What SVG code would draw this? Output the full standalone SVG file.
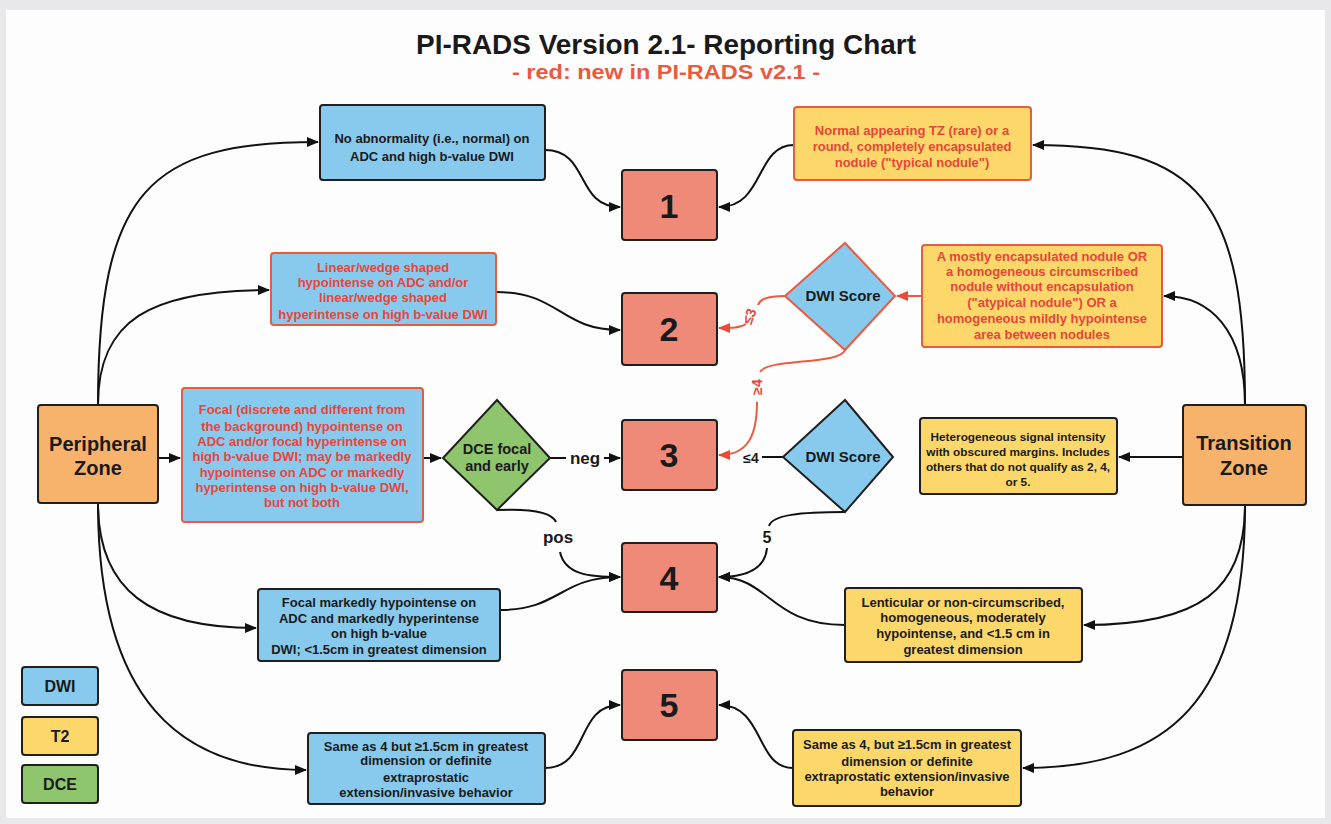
<svg xmlns="http://www.w3.org/2000/svg" width="1331" height="824" viewBox="0 0 1331 824">
<defs>
<style>
.t{font-family:"Liberation Sans",Arial,sans-serif;font-weight:bold;text-anchor:middle}
.s{font-size:13px}
.s2{font-size:11.8px}
.blk{fill:#1a1a1a}
.red{fill:#e8453a}
.bx{stroke:#1f1f1f;stroke-width:2}
.rbx{stroke:#ea5a3f;stroke-width:2}
.blue{fill:#88caed}
.yel{fill:#fcd86b}
.sal{fill:#f08a78}
.org{fill:#f7b36b}
.grn{fill:#8fc56c}
.c{fill:none;stroke:#111;stroke-width:2}
.rc{fill:none;stroke:#ec5a3f;stroke-width:2}
.num{font-size:34px}
.lab{font-size:17px}
</style>
<marker id="ah" markerUnits="userSpaceOnUse" markerWidth="12" markerHeight="12" viewBox="0 0 12 12" refX="11" refY="6" orient="auto"><path d="M0,1 L12,6 L0,11 z" fill="#111"/></marker>
<marker id="rah" markerUnits="userSpaceOnUse" markerWidth="12" markerHeight="12" viewBox="0 0 12 12" refX="11" refY="6" orient="auto"><path d="M0,1 L12,6 L0,11 z" fill="#ec4a35"/></marker>
</defs>
<rect x="0" y="0" width="1331" height="824" fill="#e8e8ea"/>
<rect x="6" y="10" width="1319" height="808" fill="#fdfdfe"/>
<g id="title">
<text class="t blk" x="666" y="54" font-size="28" textLength="500" lengthAdjust="spacingAndGlyphs">PI-RADS Version 2.1- Reporting Chart</text>
<text class="t" x="666" y="79" font-size="20" fill="#ea5a3f" textLength="308" lengthAdjust="spacingAndGlyphs">- red: new in PI-RADS v2.1 -</text>
</g>
<g id="connectors">
<path class="c" d="M98 405 C98 190 150 142 318 142" marker-end="url(#ah)"/>
<path class="c" d="M98 405 C98 320 150 290 269 290" marker-end="url(#ah)"/>
<path class="c" d="M158 458 L180 458" marker-end="url(#ah)"/>
<path class="c" d="M98 503 C98 590 150 628 256 628" marker-end="url(#ah)"/>
<path class="c" d="M98 503 C98 700 180 770 306 770" marker-end="url(#ah)"/>
<path class="c" d="M1245 405 C1245 200 1200 145 1033 145" marker-end="url(#ah)"/>
<path class="c" d="M1245 405 C1245 330 1210 296 1164 296" marker-end="url(#ah)"/>
<path class="c" d="M1183 457 L1119 457" marker-end="url(#ah)"/>
<path class="c" d="M1245 505 C1245 590 1200 625 1084 625" marker-end="url(#ah)"/>
<path class="c" d="M1245 505 C1245 700 1170 768 1023 768" marker-end="url(#ah)"/>
<path class="c" d="M545 150 C590 150 575 207 620 207" marker-end="url(#ah)"/>
<path class="c" d="M794 145 C755 145 765 207 719 207" marker-end="url(#ah)"/>
<path class="c" d="M496 292 C560 292 560 330 620 330" marker-end="url(#ah)"/>
<path class="c" d="M423 458 L441 458" marker-end="url(#ah)"/>
<path class="c" d="M550 458 L566 458"/>
<path class="c" d="M604 458 L620 458" marker-end="url(#ah)"/>
<path class="c" d="M497 510 C540 508 553 515 556 522"/>
<path class="c" d="M560 552 C565 575 590 577 620 577" marker-end="url(#ah)"/>
<path class="c" d="M500 610 C560 610 560 577 620 577" marker-end="url(#ah)"/>
<path class="c" d="M845 625 C770 625 770 577 719 577" marker-end="url(#ah)"/>
<path class="c" d="M845 512 C800 512 772 515 769 526"/>
<path class="c" d="M767 548 C765 570 745 577 719 577" marker-end="url(#ah)"/>
<path class="c" d="M783 457 L762 457"/>
<path class="c" d="M545 768 C590 768 575 705 620 705" marker-end="url(#ah)"/>
<path class="c" d="M793 768 C755 768 765 705 719 705" marker-end="url(#ah)"/>
<path class="rc" d="M922 296 L897 296" marker-end="url(#rah)"/>
<path class="rc" d="M785 296 C765 296 760 300 758 305"/>
<path class="rc" d="M746 324 C740 328 732 328 719 328" marker-end="url(#rah)"/>
<path class="rc" d="M845 350 C840 365 768 358 760 372"/>
<path class="rc" d="M757 402 C757 440 745 455 719 455" marker-end="url(#rah)"/>
<text class="t blk lab" x="585" y="464">neg</text>
<text class="t blk lab" x="558" y="543">pos</text>
<text class="t blk" x="767" y="543" font-size="16">5</text>
<text class="t blk" x="751" y="463" font-size="14">≤4</text>
<text class="t red" x="0" y="0" font-size="14" transform="translate(754 318) rotate(-70)">≤3</text>
<text class="t red" x="0" y="0" font-size="14" transform="translate(762 387) rotate(-90)">≥4</text>
</g>
<g id="pz"><rect class="bx org" x="38" y="405" width="120" height="98" rx="3"/><text class="t blk" font-size="20" x="98" y="451">Peripheral</text><text class="t blk" font-size="20" x="98" y="475">Zone</text></g>
<g id="tz"><rect class="bx org" x="1183" y="405" width="123" height="100" rx="3"/><text class="t blk" font-size="20" x="1244" y="450">Transition</text><text class="t blk" font-size="20" x="1244" y="475">Zone</text></g>
<g id="s1"><rect class="bx sal" x="622" y="170" width="95" height="70" rx="3"/><text class="t blk num" x="669" y="218">1</text></g>
<g id="s2"><rect class="bx sal" x="622" y="293" width="95" height="72" rx="3"/><text class="t blk num" x="669" y="341">2</text></g>
<g id="s3"><rect class="bx sal" x="622" y="420" width="95" height="70" rx="3"/><text class="t blk num" x="669" y="467">3</text></g>
<g id="s4"><rect class="bx sal" x="622" y="543" width="95" height="69" rx="3"/><text class="t blk num" x="669" y="590">4</text></g>
<g id="s5"><rect class="bx sal" x="622" y="670" width="95" height="70" rx="3"/><text class="t blk num" x="669" y="717">5</text></g>
<g id="n-normal-pz"><rect class="bx blue" x="320" y="105" width="225" height="75" rx="3"/><text class="t blk s" x="432" y="143">No abnormality (i.e., normal) on</text><text class="t blk s" x="432" y="161">ADC and high b-value DWI</text></g>
<g id="n-normal-tz"><rect class="rbx yel" x="794" y="107" width="237" height="73" rx="3"/><text class="t red s" x="912" y="135">Normal appearing TZ (rare) or a</text><text class="t red s" x="912" y="151">round, completely encapsulated</text><text class="t red s" x="912" y="167">nodule ("typical nodule")</text></g>
<g id="n-wedge"><rect class="rbx blue" x="271" y="253" width="225" height="72" rx="3"/><text class="t red s" x="383" y="272">Linear/wedge shaped</text><text class="t red s" x="383" y="287">hypointense on ADC and/or</text><text class="t red s" x="383" y="302">linear/wedge shaped</text><text class="t red s" x="383" y="319">hyperintense on high b-value DWI</text></g>
<g id="dwi1"><polygon class="rbx blue" points="845,243 895,296 845,350 785,296"/><text class="t blk" font-size="15" x="843" y="301">DWI Score</text></g>
<g id="n-atypical"><rect class="rbx yel" x="922" y="245" width="240" height="102" rx="3"/><text class="t red s" x="1042" y="261">A mostly encapsulated nodule OR</text><text class="t red s" x="1042" y="276">a homogeneous circumscribed</text><text class="t red s" x="1042" y="291">nodule without encapsulation</text><text class="t red s" x="1042" y="307">("atypical nodule") OR a</text><text class="t red s" x="1042" y="323">homogeneous mildly hypointense</text><text class="t red s" x="1042" y="339">area between nodules</text></g>
<g id="n-focal"><rect class="rbx blue" x="182" y="388" width="241" height="134" rx="3"/><text class="t red s" x="302" y="414">Focal (discrete and different from</text><text class="t red s" x="302" y="431">the background) hypointense on</text><text class="t red s" x="302" y="446">ADC and/or focal hyperintense on</text><text class="t red s" x="302" y="461">high b-value DWI; may be markedly</text><text class="t red s" x="302" y="477">hypointense on ADC or markedly</text><text class="t red s" x="302" y="492">hyperintense on high b-value DWI,</text><text class="t red s" x="302" y="507">but not both</text></g>
<g id="dce"><polygon class="bx grn" points="497,400 550,458 497,510 443,458"/><text class="t blk" font-size="14.5" x="497" y="454">DCE focal</text><text class="t blk" font-size="14.5" x="497" y="471">and early</text></g>
<g id="dwi2"><polygon class="bx blue" points="845,400 893,457 845,512 783,457"/><text class="t blk" font-size="15" x="843" y="462">DWI Score</text></g>
<g id="n-hetero"><rect class="bx yel" x="920" y="418" width="197" height="76" rx="3"/><text class="t blk s2" x="1018" y="441">Heterogeneous signal intensity</text><text class="t blk s2" x="1018" y="456">with obscured margins. Includes</text><text class="t blk s2" x="1018" y="471">others that do not qualify as 2, 4,</text><text class="t blk s2" x="1018" y="486">or 5.</text></g>
<g id="n-focal-marked"><rect class="bx blue" x="258" y="589" width="242" height="72" rx="3"/><text class="t blk s" x="379" y="607">Focal markedly hypointense on</text><text class="t blk s" x="379" y="623">ADC and markedly hyperintense</text><text class="t blk s" x="379" y="638">on high b-value</text><text class="t blk s" x="379" y="654">DWI; &lt;1.5cm in greatest dimension</text></g>
<g id="n-lenticular"><rect class="bx yel" x="845" y="588" width="237" height="74" rx="3"/><text class="t blk s" x="963" y="607">Lenticular or non-circumscribed,</text><text class="t blk s" x="963" y="622">homogeneous, moderately</text><text class="t blk s" x="963" y="638">hypointense, and &lt;1.5 cm in</text><text class="t blk s" x="963" y="654">greatest dimension</text></g>
<g id="n-5-pz"><rect class="bx blue" x="308" y="733" width="237" height="71" rx="3"/><text class="t blk s" x="426" y="751">Same as 4 but ≥1.5cm in greatest</text><text class="t blk s" x="426" y="765">dimension or definite</text><text class="t blk s" x="426" y="782">extraprostatic</text><text class="t blk s" x="426" y="797">extension/invasive behavior</text></g>
<g id="n-5-tz"><rect class="bx yel" x="793" y="730" width="228" height="76" rx="3"/><text class="t blk s" x="907" y="749">Same as 4, but ≥1.5cm in greatest</text><text class="t blk s" x="907" y="766">dimension or definite</text><text class="t blk s" x="907" y="781">extraprostatic extension/invasive</text><text class="t blk s" x="907" y="796">behavior</text></g>
<g id="legend">
<rect class="bx blue" x="22" y="667" width="76" height="38" rx="3"/><text class="t blk" font-size="16" x="60" y="692">DWI</text>
<rect class="bx yel" x="22" y="717" width="76" height="38" rx="3"/><text class="t blk" font-size="16" x="60" y="742">T2</text>
<rect class="bx grn" x="22" y="765" width="76" height="38" rx="3"/><text class="t blk" font-size="16" x="60" y="790">DCE</text>
</g>
</svg>
